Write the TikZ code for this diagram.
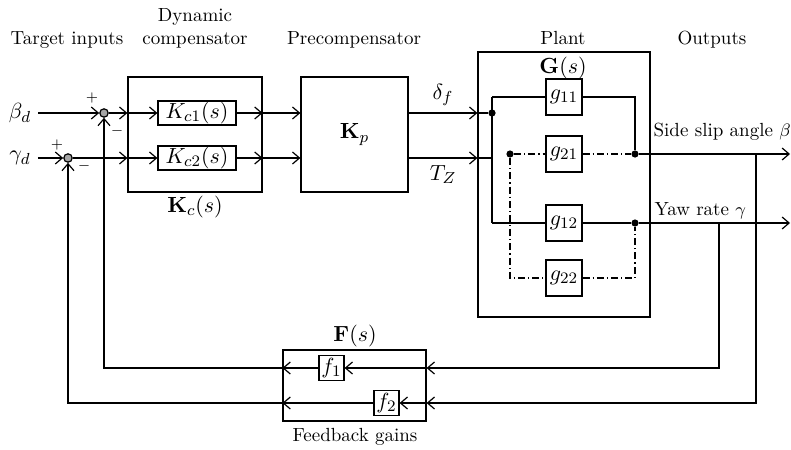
\documentclass[tikz,border=0pt]{standalone}
\usepackage{amsmath}
\usetikzlibrary{arrows.meta,positioning,calc}
\tikzset{
    every picture/.style={
        font=\fontsize{9.5}{11.5}\selectfont,
        >={Straight Barb[length=3.5pt,width=6pt]},
        line width=0.6pt
    }
}

\begin{document}
\begin{tikzpicture}[x=0.5pt,y=-0.5pt,
    mth/.style={font=\fontsize{11}{13}\selectfont},
    blk/.style={draw,inner sep=0pt,mth},
    gbox/.style={draw,inner sep=0pt,minimum width=18pt,minimum height=18pt,mth},
    fbox/.style={draw,inner sep=0pt,minimum width=12.5pt,minimum height=12.5pt,mth},
    sumpt/.style={circle,draw,fill=gray!70,minimum size=4.2pt,inner sep=0pt},
    dotpt/.style={circle,fill,minimum size=3.6pt,inner sep=0pt},
    title/.style={anchor=base,align=center},
    outlab/.style={anchor=base west,inner sep=0pt},
    sgn/.style={font=\scriptsize,inner sep=0pt},
    dashdot/.style={dash pattern=on 3.5pt off 1.5pt on 0.6pt off 1.5pt}
]
  \useasboundingbox (0,0) rectangle (791,449);

  % Titles
  \node[title] (tin) at (67,45) {Target inputs};
  \node[title] (tdc) at (195,45) {Dynamic\\compensator};
  \node[title] (tpc) at (354,45) {Precompensator};
  \node[title] (tpl) at (563,45) {Plant};
  \node[title] (tout) at (712,45) {Outputs};

  % Inputs and summing points
  \node[mth] (bd) at (20,113) {$\beta_d$};
  \node[mth] (gd) at (20,158) {$\gamma_d$};
  \node[sumpt] (sum1) at (104,113) {};
  \node[sumpt] (sum2) at (68,158) {};
  \node[sgn] (p1) at (92,98) {$+$};
  \node[sgn] (m1) at (117,131) {$-$};
  \node[sgn] (p2) at (57,145) {$+$};
  \node[sgn] (m2) at (84,166) {$-$};

  % Dynamic compensator
  \node[blk,minimum width=67pt,minimum height=57.5pt] (Kc) at (195,134.5) {};
  \node[blk,minimum width=39pt,minimum height=12pt] (Kc1) at (197,113) {$K_{c1}(s)$};
  \node[blk,minimum width=39pt,minimum height=12pt] (Kc2) at (197,158) {$K_{c2}(s)$};
  \node[mth] (Kclab) at (195,207) {$\mathbf{K}_c(s)$};

  % Precompensator
  \node[blk,minimum width=53.5pt,minimum height=57.5pt] (Kp) at (354.5,134.5) {$\mathbf{K}_p$};

  % Plant
  \node[blk,minimum width=86pt,minimum height=132.5pt] (plant) at (564,184.5) {};
  \node[mth] (Glab) at (563,68) {$\mathbf{G}(s)$};
  \node[gbox] (g11) at (564,97) {$g_{11}$};
  \node[gbox] (g21) at (564,154) {$g_{21}$};
  \node[gbox] (g12) at (564,223) {$g_{12}$};
  \node[gbox] (g22) at (564,278) {$g_{22}$};
  \node[dotpt] (j1) at (492,113) {};
  \node[dotpt] (j2) at (510,154) {};
  \node[dotpt] (o1) at (635,154) {};
  \node[dotpt] (o2) at (635,223) {};

  % Feedback gains
  \node[blk,minimum width=71.5pt,minimum height=35.5pt] (F) at (354.5,385.5) {};
  \node[fbox] (f1) at (331.5,368) {$f_1$};
  \node[fbox] (f2) at (386.5,403) {$f_2$};
  \node[mth] (Flab) at (355,336) {$\mathbf{F}(s)$};
  \node (fbg) at (355,437) {Feedback gains};

  % Output ends and branch points
  \coordinate (out1) at (790,154);
  \coordinate (out2) at (790,223);
  \coordinate (b1) at (756,154);
  \coordinate (b2) at (719,223);
  \node[outlab] (lbeta) at (653,136) {Side slip angle $\beta$};
  \node[outlab] (lgam) at (654,215) {Yaw rate $\gamma$};

  % Forward path
  \draw[->] (bd) -- (sum1);
  \draw[->] (gd) -- (sum2);
  \draw[->] (sum1) -- (sum1 -| Kc.west);
  \draw[->] (sum2) -- (sum2 -| Kc.west);
  \draw[->] (sum1 -| Kc.west) -- (Kc1);
  \draw[->] (sum2 -| Kc.west) -- (Kc2);
  \draw[->] (Kc1) -- (Kc1 -| Kc.east);
  \draw[->] (Kc2) -- (Kc2 -| Kc.east);
  \draw[->] (Kc1 -| Kc.east) -- (Kc1 -| Kp.west);
  \draw[->] (Kc2 -| Kc.east) -- (Kc2 -| Kp.west);
  \draw[->] (Kp.east |- j1) -- node[above,mth] {$\delta_f$} (plant.west |- j1);
  \draw[->] (Kp.east |- Kc2) -- node[below,mth] {$T_Z$} (plant.west |- Kc2);

  % Inside the plant
  \draw (plant.west |- j1) -- (j1);
  \draw (plant.west |- Kc2) -- (Kc2 -| j1);
  \draw (g11 -| j1) -- (g12 -| j1);
  \draw (g11 -| j1) -- (g11);
  \draw (g12 -| j1) -- (g12);
  \draw (g11) -| (o1);
  \draw (g12) -- (o2);
  \draw[dashdot] (j2) -- (g21);
  \draw[dashdot] (g21) -- (o1);
  \draw[dashdot] (j2) |- (g22);
  \draw[dashdot] (g22) -| (o2);

  % Outputs
  \draw[->] (o1) -- (out1);
  \draw[->] (o2) -- (out2);

  % Feedback path
  \draw[->] (b2) |- (F.east |- f1);
  \draw[->] (b1) |- (F.east |- f2);
  \draw[->] (F.east |- f1) -- (f1);
  \draw[->] (F.east |- f2) -- (f2);
  \draw[->] (f1) -- (f1 -| F.west);
  \draw[->] (f2) -- (f2 -| F.west);
  \draw[->] (f1 -| F.west) -| (sum1);
  \draw[->] (f2 -| F.west) -| (sum2);
\end{tikzpicture}
\end{document}
